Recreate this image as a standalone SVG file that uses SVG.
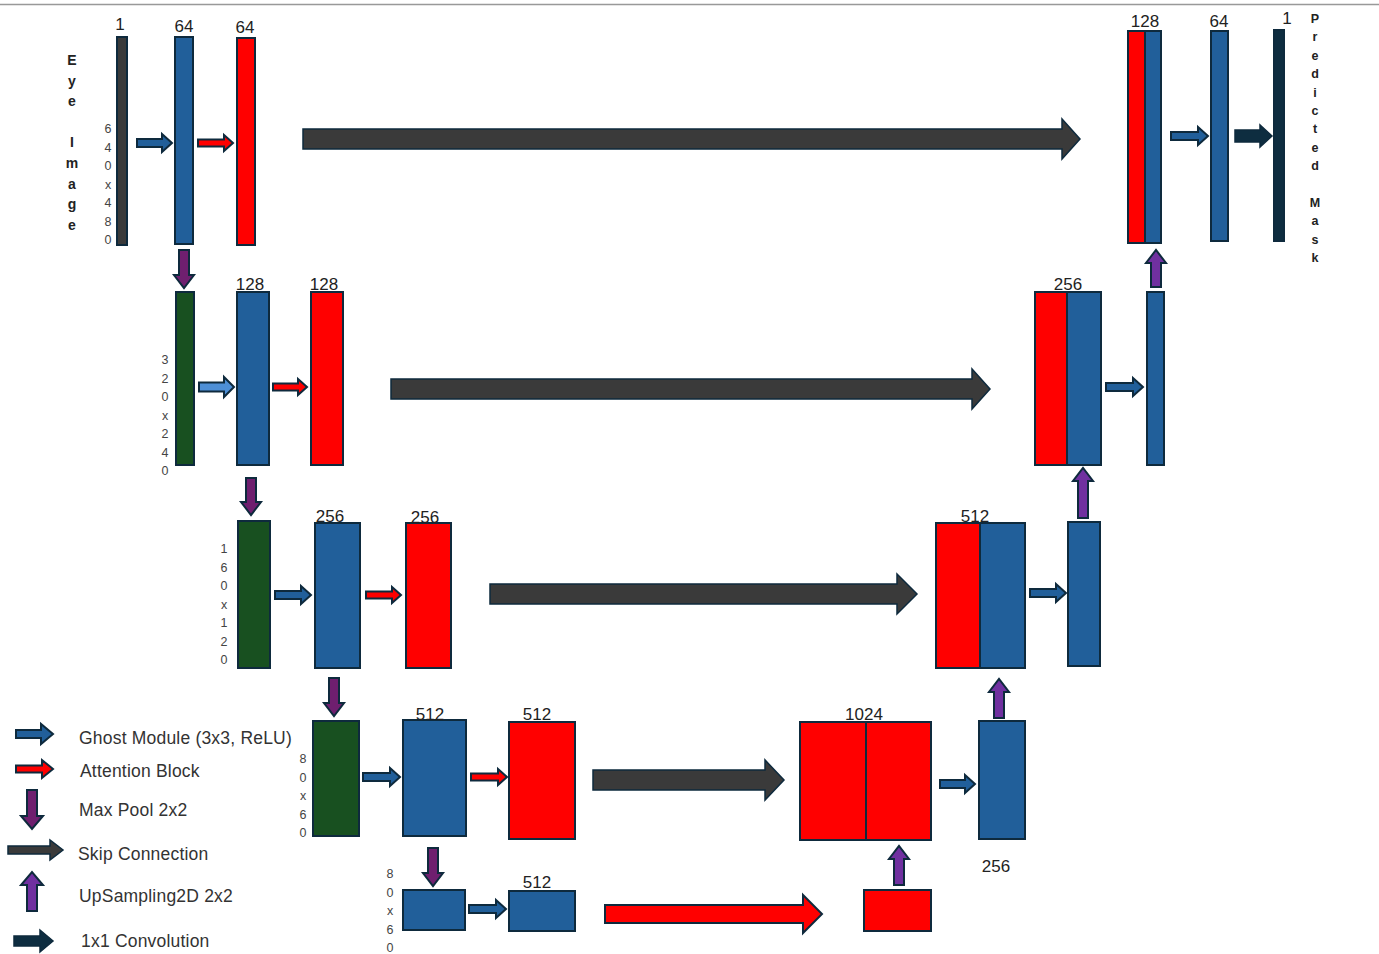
<svg xmlns="http://www.w3.org/2000/svg" width="1379" height="954" viewBox="0 0 1379 954">
<style>
.b{fill:#215f9a;stroke:#0e2a3d;stroke-width:2}
.r{fill:#ff0000;stroke:#0e2a3d;stroke-width:2}
.g{fill:#185020;stroke:#0e2a3d;stroke-width:2}
.in{fill:#3a3a3a;stroke:#0e2a3d;stroke-width:2}
.out{fill:#0e2d40;stroke:#0e2a3d;stroke-width:2}
.ag{fill:#215f9a;stroke:#0e2a3d;stroke-width:2}
.agl{fill:#4d8fd6;stroke:#0e2a3d;stroke-width:2}
.ar{fill:#ff0000;stroke:#0e2a3d;stroke-width:2}
.as{fill:#3a3a3a;stroke:#0e2a3d;stroke-width:1.5}
.asr{fill:#ff0000;stroke:#0e2a3d;stroke-width:2}
.ap{fill:#6f1f6f;stroke:#0e2a3d;stroke-width:2}
.au{fill:#7030a0;stroke:#0e2a3d;stroke-width:2}
.ac{fill:#0e2d40;stroke:#0e2a3d;stroke-width:1.5}
.n{font-family:"Liberation Sans",Arial,sans-serif;font-size:17px;fill:#222;text-anchor:middle}
.d{font-family:"Liberation Sans",Arial,sans-serif;font-size:12.5px;fill:#444;text-anchor:middle}
.v{font-family:"Liberation Sans",Arial,sans-serif;font-size:14px;font-weight:bold;fill:#222;text-anchor:middle}
.l{font-family:"Liberation Sans",Arial,sans-serif;font-size:17.5px;fill:#333;letter-spacing:0.2px}
</style>
<line x1="0" y1="4.5" x2="1379" y2="4.5" stroke="#999" stroke-width="1.5"/>

<g id="label-eye-image" class="v">
<text x="72" y="65">E</text><text x="72" y="85.6">y</text><text x="72" y="106.2">e</text>
<text x="72" y="147.4">I</text><text x="72" y="168">m</text><text x="72" y="188.6">a</text><text x="72" y="209.2">g</text><text x="72" y="229.8">e</text>
</g>
<g id="label-predicted-mask" class="v" style="font-size:12.5px">
<text x="1315" y="23">P</text><text x="1315" y="41.4">r</text><text x="1315" y="59.8">e</text><text x="1315" y="78.2">d</text><text x="1315" y="96.6">i</text><text x="1315" y="115">c</text><text x="1315" y="133.4">t</text><text x="1315" y="151.8">e</text><text x="1315" y="170.2">d</text>
<text x="1315" y="207">M</text><text x="1315" y="225.4">a</text><text x="1315" y="243.8">s</text><text x="1315" y="262.2">k</text>
</g>
<g id="dim-640x480" class="d">
<text x="108" y="133">6</text><text x="108" y="151.5">4</text><text x="108" y="170">0</text><text x="108" y="188.5">x</text><text x="108" y="207">4</text><text x="108" y="225.5">8</text><text x="108" y="244">0</text>
</g>
<g id="dim-320x240" class="d">
<text x="165" y="364">3</text><text x="165" y="382.5">2</text><text x="165" y="401">0</text><text x="165" y="419.5">x</text><text x="165" y="438">2</text><text x="165" y="456.5">4</text><text x="165" y="475">0</text>
</g>
<g id="dim-160x120" class="d">
<text x="224" y="553">1</text><text x="224" y="571.5">6</text><text x="224" y="590">0</text><text x="224" y="608.5">x</text><text x="224" y="627">1</text><text x="224" y="645.5">2</text><text x="224" y="664">0</text>
</g>
<g id="dim-80x60-a" class="d">
<text x="303" y="763">8</text><text x="303" y="781.5">0</text><text x="303" y="800">x</text><text x="303" y="818.5">6</text><text x="303" y="837">0</text>
</g>
<g id="dim-80x60-b" class="d">
<text x="390" y="878">8</text><text x="390" y="896.5">0</text><text x="390" y="915">x</text><text x="390" y="933.5">6</text><text x="390" y="952">0</text>
</g>

<!-- Row 1 -->
<g id="input"><rect class="in" x="117" y="37" width="10" height="208"/><text class="n" x="120" y="30">1</text></g>
<g id="enc1-ghost"><rect class="b" x="175" y="37" width="18" height="207"/><text class="n" x="184" y="32">64</text></g>
<g id="enc1-att"><rect class="r" x="237" y="38" width="18" height="207"/><text class="n" x="245" y="33">64</text></g>
<g id="dec1-concat"><rect class="r" x="1128" y="31" width="17" height="212"/><rect class="b" x="1145" y="31" width="16" height="212"/><text class="n" x="1145" y="27">128</text></g>
<g id="dec1-ghost"><rect class="b" x="1211" y="31" width="17" height="210"/><text class="n" x="1219" y="27">64</text></g>
<g id="output"><rect class="out" x="1274" y="30" width="10" height="211"/><text class="n" x="1287" y="24">1</text></g>

<!-- Row 2 -->
<g id="enc2-pool"><rect class="g" x="176" y="292" width="18" height="173"/></g>
<g id="enc2-ghost"><rect class="b" x="237" y="292" width="32" height="173"/><text class="n" x="250" y="290">128</text></g>
<g id="enc2-att"><rect class="r" x="311" y="292" width="32" height="173"/><text class="n" x="324" y="290">128</text></g>
<g id="dec2-concat"><rect class="r" x="1035" y="292" width="32" height="173"/><rect class="b" x="1067" y="292" width="34" height="173"/><text class="n" x="1068" y="290">256</text></g>
<g id="dec2-ghost"><rect class="b" x="1147" y="292" width="17" height="173"/></g>

<!-- Row 3 -->
<g id="enc3-pool"><rect class="g" x="238" y="521" width="32" height="147"/></g>
<g id="enc3-ghost"><rect class="b" x="315" y="523" width="45" height="145"/><text class="n" x="330" y="522">256</text></g>
<g id="enc3-att"><rect class="r" x="406" y="523" width="45" height="145"/><text class="n" x="425" y="523">256</text></g>
<g id="dec3-concat"><rect class="r" x="936" y="523" width="44" height="145"/><rect class="b" x="980" y="523" width="45" height="145"/><text class="n" x="975" y="522">512</text></g>
<g id="dec3-ghost"><rect class="b" x="1068" y="522" width="32" height="144"/></g>

<!-- Row 4 -->
<g id="enc4-pool"><rect class="g" x="313" y="721" width="46" height="115"/></g>
<g id="enc4-ghost"><rect class="b" x="403" y="720" width="63" height="116"/><text class="n" x="430" y="720">512</text></g>
<g id="enc4-att"><rect class="r" x="509" y="722" width="66" height="117"/><text class="n" x="537" y="720">512</text></g>
<g id="bottleneck-concat"><rect class="r" x="800" y="722" width="66" height="118"/><rect class="r" x="866" y="722" width="65" height="118"/><text class="n" x="864" y="720">1024</text></g>
<g id="dec4-ghost"><rect class="b" x="979" y="721" width="46" height="118"/><text class="n" x="996" y="872">256</text></g>

<!-- Row 5 -->
<g id="bottom-pool"><rect class="b" x="403" y="890" width="62" height="40"/></g>
<g id="bottom-ghost"><rect class="b" x="509" y="891" width="66" height="40"/><text class="n" x="537" y="888">512</text></g>
<g id="bottom-att"><rect class="r" x="864" y="890" width="67" height="41"/></g>

<g id="connectors">
<!-- row 1 -->
<polygon class="ag" points="137,139 162,139 162,134 172,143 162,152 162,147 137,147"/>
<polygon class="ar" points="198,139.5 224,139.5 224,135 233,143 224,151 224,146.5 198,146.5"/>
<polygon class="as" points="303,129 1062,129 1062,119 1080,139 1062,159 1062,149 303,149"/>
<polygon class="ag" points="1171,132 1198,132 1198,127 1208,136 1198,145 1198,140 1171,140"/>
<polygon class="ac" points="1235,130 1260,130 1260,125 1272,136 1260,147 1260,142 1235,142"/>
<polygon class="au" points="1151,287 1161,287 1161,263 1166,263 1156,250 1146,263 1151,263"/>
<polygon class="ap" points="179,250 189,250 189,275 194,275 184,288 174,275 179,275"/>
<!-- row 2 -->
<polygon class="agl" points="199,382.5 224,382.5 224,377 234,387 224,397 224,391.5 199,391.5"/>
<polygon class="ar" points="273,383.5 298,383.5 298,379 307,387 298,395 298,390.5 273,390.5"/>
<polygon class="as" points="391,379 972,379 972,369 990,389 972,409 972,399 391,399"/>
<polygon class="ag" points="1106,383 1133,383 1133,378 1143,387 1133,396 1133,391 1106,391"/>
<polygon class="au" points="1078,518 1088,518 1088,481 1093,481 1083,468 1073,481 1078,481"/>
<polygon class="ap" points="246,478 256,478 256,502 261,502 251,515 241,502 246,502"/>
<!-- row 3 -->
<polygon class="ag" points="275,591 301,591 301,586 311,595 301,604 301,599 275,599"/>
<polygon class="ar" points="366,591.5 392,591.5 392,587 401,595 392,603 392,598.5 366,598.5"/>
<polygon class="as" points="490,584 897,584 897,574 917,594 897,614 897,604 490,604"/>
<polygon class="ag" points="1030,589 1056,589 1056,584 1066,593 1056,602 1056,597 1030,597"/>
<polygon class="au" points="994,718 1004,718 1004,692 1009,692 999,679 989,692 994,692"/>
<polygon class="ap" points="329,678 339,678 339,703 344,703 334,716 324,703 329,703"/>
<!-- row 4 -->
<polygon class="ag" points="363,773 390,773 390,768 400,777 390,786 390,781 363,781"/>
<polygon class="ar" points="471,773.5 498,773.5 498,769 507,777 498,785 498,780.5 471,780.5"/>
<polygon class="as" points="593,770 765,770 765,760 784,780 765,800 765,790 593,790"/>
<polygon class="ag" points="940,780 965,780 965,775 975,784 965,793 965,788 940,788"/>
<polygon class="au" points="894,885 904,885 904,859 909,859 899,846 889,859 894,859"/>
<polygon class="ap" points="428,848 438,848 438,873 443,873 433,886 423,873 428,873"/>
<!-- row 5 -->
<polygon class="ag" points="469,905 496,905 496,900 506,909 496,918 496,913 469,913"/>
<polygon class="asr" points="605,905 803,905 803,895 822,914 803,933 803,923 605,923"/>
</g>

<g id="legend">
<polygon class="ag" points="16,730 41,730 41,724 53,734 41,744 41,738 16,738"/>
<text class="l" x="79" y="744">Ghost Module (3x3, ReLU)</text>
<polygon class="ar" points="16,765.5 42,765.5 42,760 53,769 42,778 42,772.5 16,772.5"/>
<text class="l" x="80" y="777">Attention Block</text>
<polygon class="ap" points="27,790 37,790 37,816 43,816 32,829 21,816 27,816"/>
<text class="l" x="79" y="816">Max Pool 2x2</text>
<polygon class="as" points="8,846 50,846 50,840 63,850 50,860 50,854 8,854"/>
<text class="l" x="78" y="860">Skip Connection</text>
<polygon class="au" points="27,911 37,911 37,885 43,885 32,872 21,885 27,885"/>
<text class="l" x="79" y="902">UpSampling2D 2x2</text>
<polygon class="ac" points="14,936 40,936 40,930 53,941 40,952 40,946 14,946"/>
<text class="l" x="81" y="947">1x1 Convolution</text>
</g>
</svg>
